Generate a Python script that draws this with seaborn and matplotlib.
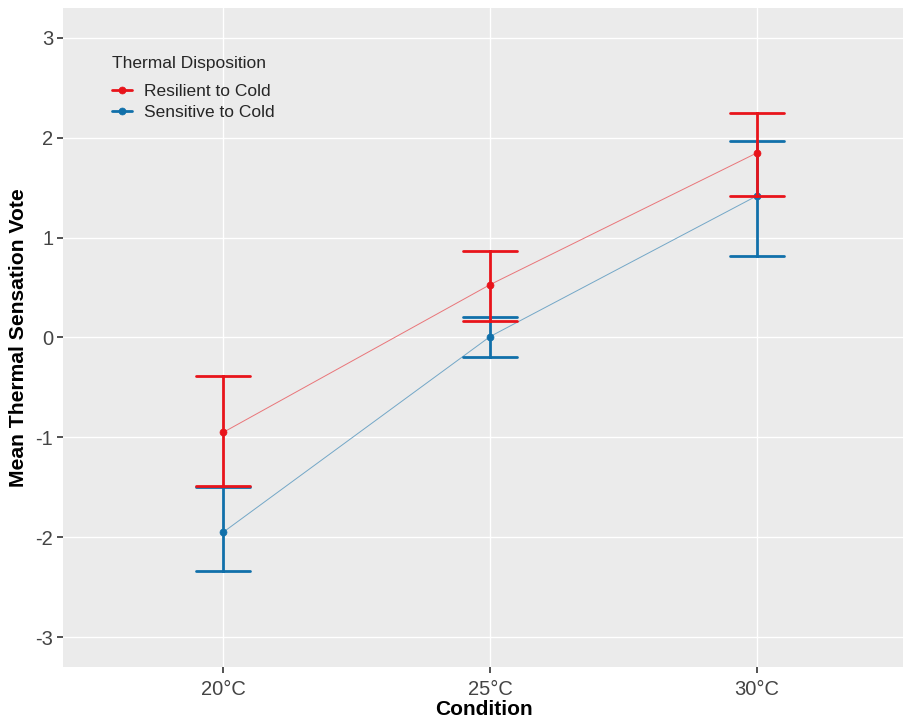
import pandas as pd
import seaborn as sns
import matplotlib.pyplot as plt
from matplotlib.colors import to_rgb

# Values (mean and error bar limits)
conditions = ['20°C', '25°C', '30°C']
groups = ['Resilient to Cold', 'Sensitive to Cold']
resilient_mean = [-0.95, 0.53, 1.85]
resilient_lo = [-1.49, 0.17, 1.42]
resilient_hi = [-0.39, 0.87, 2.25]
sensitive_mean = [-1.95, 0.01, 1.42]
sensitive_lo = [-2.34, -0.20, 0.82]
sensitive_hi = [-1.50, 0.21, 1.97]
palette = {'Resilient to Cold': '#E8141B', 'Sensitive to Cold': '#1170AA'}
panel_bg = '#EBEBEB'

rows = []
for grp, mean, lo, hi in [(groups[0], resilient_mean, resilient_lo, resilient_hi),
                          (groups[1], sensitive_mean, sensitive_lo, sensitive_hi)]:
    for c, m, l, h in zip(conditions, mean, lo, hi):
        for v in (l, m, h):
            rows.append({'Condition': c, 'vote': v, 'group': grp})
df = pd.DataFrame(rows)

sns.set_theme(style='darkgrid', rc={'axes.facecolor': panel_bg, 'grid.color': 'white'})
plt.rcParams['font.family'] = ['Liberation Sans', 'DejaVu Sans']
plt.rcParams['axes.unicode_minus'] = False

fig = plt.figure(figsize=(9.04, 7.19), dpi=100)
ax = fig.add_axes([0.0697, 0.0723, 0.9303, 0.9166])

# sensitive first so the red bars sit on top, as in the reference
sns.pointplot(data=df, x='Condition', y='vote', hue='group',
              hue_order=groups[::-1], order=conditions, palette=palette,
              estimator='median', errorbar=lambda v: (v.min(), v.max()),
              capsize=0.2, dodge=False, markersize=5, linewidth=0.7,
              err_kws={'linewidth': 2.0}, ax=ax)

# thin connecting lines look washed out in the reference, markers stay solid
bg = to_rgb(panel_bg)
for ln in ax.lines:
    if len(ln.get_xdata()) == 3:
        c = to_rgb(ln.get_color())
        faded = tuple(0.55 * a + 0.45 * b for a, b in zip(c, bg))
        ln.set_color(faded)
        ln.set_markerfacecolor(c)
        ln.set_markeredgecolor(c)

ax.set_ylim(-3.3, 3.3)
ax.set_xlim(-0.6, 2.55)
ax.set_yticks([-3, -2, -1, 0, 1, 2, 3])
ax.grid(True, color='white', linewidth=1.0)
ax.tick_params(axis='both', labelsize=14.5, labelcolor='#444444', color='#333333',
               length=4, width=1.2, direction='out', left=True, bottom=True)
ax.tick_params(axis='x', pad=5)
ax.tick_params(axis='y', pad=3)
for s in ax.spines.values():
    s.set_visible(False)
ax.set_xlabel('Condition', fontsize=15, fontweight='bold', color='black', labelpad=1)
ax.set_ylabel('Mean Thermal Sensation Vote', fontsize=15.2, fontweight='bold', color='black', labelpad=5)

handles, labels = ax.get_legend_handles_labels()
order = [labels.index(g) for g in groups]
leg = ax.legend([handles[i] for i in order], [labels[i] for i in order],
                title='Thermal Disposition', loc='upper left',
                bbox_to_anchor=(0.048, 0.94), frameon=False, fontsize=12.5,
                title_fontsize=12.5, handlelength=1.15, handletextpad=0.7,
                labelspacing=0.37, borderpad=0, alignment='left')
leg._legend_box.sep = 9
for h in leg.legend_handles:
    h.set_linewidth(2)
    h.set_markersize(5)

fig.savefig('out.png', dpi=100)
